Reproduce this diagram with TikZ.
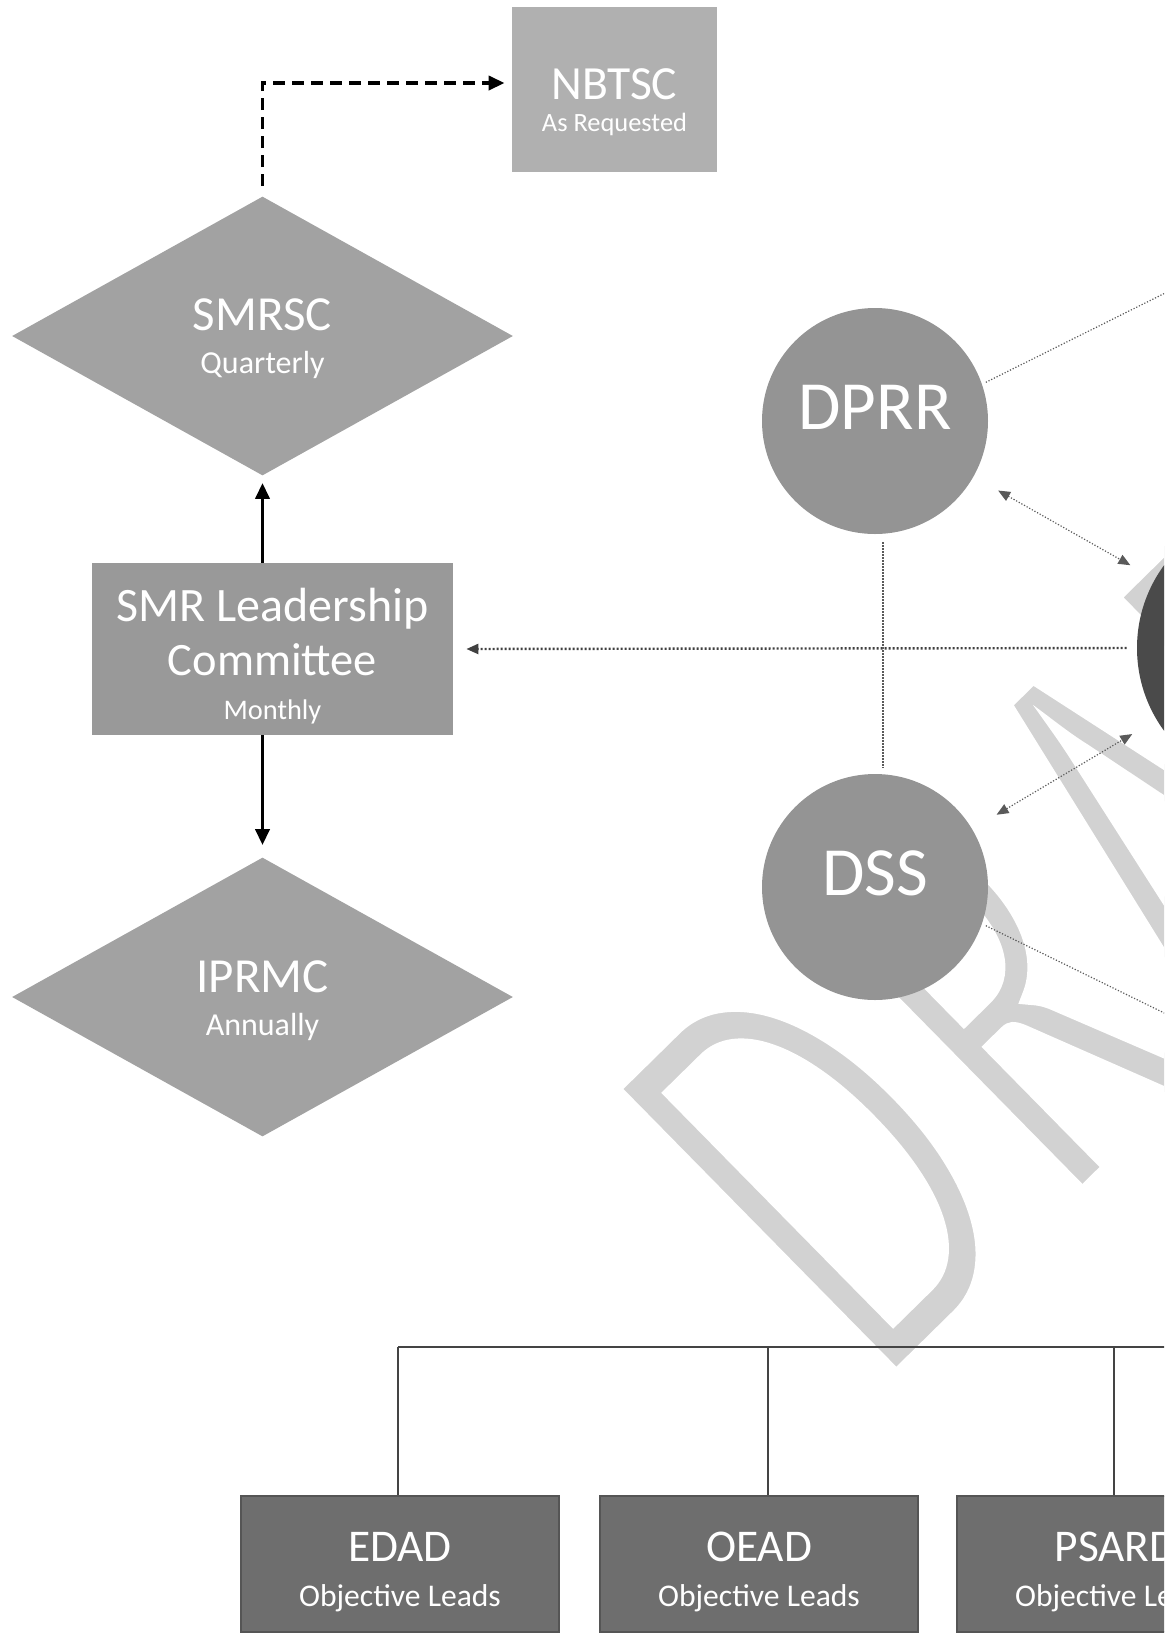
\documentclass[tikz,border=0pt]{standalone}
\usepackage{fontspec}
\setmainfont{Carlito}
\usetikzlibrary{shapes.geometric,arrows.meta,positioning}

\definecolor{reqgray}{HTML}{B0B0B0}
\definecolor{meetgray}{HTML}{A2A2A2}
\definecolor{boxgray}{HTML}{999999}
\definecolor{unitgray}{HTML}{949494}
\definecolor{hubgray}{HTML}{4A4A4A}
\definecolor{leadgray}{HTML}{6E6E6E}
\definecolor{leadedge}{HTML}{555555}
\definecolor{linkgray}{HTML}{5A5A5A}
\definecolor{busgray}{HTML}{444444}
\definecolor{markgray}{HTML}{D2D2D2}

% thinner watermark strokes: white outline round the glyphs
\newcommand{\thinmark}[1]{%
  \special{pdf:literal direct 2 Tr 1 1 1 RG 8 w}#1\special{pdf:literal direct 0 Tr}}

\begin{document}
\begin{tikzpicture}
  [x=0.5pt, y=-0.5pt,
    every node/.style={inner sep=0pt, text=white, align=center},
    meeting/.style={
      diamond, aspect=1.8,
      fill=meetgray,
      minimum width=250.5pt, minimum height=139.5pt,
      font=\fontsize{16}{21.5}\selectfont
    },
    request/.style={
      rectangle, fill=reqgray,
      minimum width=102.5pt, minimum height=82.5pt,
      text height=42.5pt, text depth=0.5pt,
      font=\fontsize{13.2}{16}\selectfont
    },
    committee/.style={
      rectangle, fill=boxgray,
      minimum width=180.5pt, minimum height=86pt,
      text height=73pt, text depth=3pt,
      font=\fontsize{14.2}{22}\selectfont
    },
    unit/.style={
      circle, fill=unitgray,
      minimum size=113pt, text height=22pt, text depth=14pt,
      font=\fontsize{34.5}{34.5}\selectfont
    },
    hub/.style={circle, fill=hubgray, minimum size=140pt},
    leads/.style={
      rectangle, fill=leadgray, draw=leadedge, line width=0.6pt,
      minimum width=159pt, minimum height=68pt,
      text height=45pt, text depth=3pt,
      font=\fontsize{15.8}{22.3}\selectfont
    },
    draftmark/.style={
      text=markgray, anchor=base west,
      rotate=44.5, xscale=0.6,
      font=\fontsize{316}{316}\selectfont
    },
    heavy/.style={line width=1.8pt, -{Triangle[length=8pt,width=7pt]}},
    heavydash/.style={heavy, dash pattern=on 6pt off 3.5pt},
    dotlink/.style={draw=linkgray, line width=0.6pt, dash pattern=on 0.6pt off 0.9pt},
    twoway/.style={
      dotlink,
      {Triangle[length=6pt,width=5pt]}-{Triangle[length=6pt,width=5pt]},
      shorten <=14pt, shorten >=14pt
    },
    bus/.style={draw=busgray, line width=0.7pt},
  ]
\useasboundingbox (0,0) rectangle (1164,1635);
\clip (0,0) rectangle (1164,1635);

% Watermark behind everything
\node [draftmark] (draft) at (880,1394) {\thinmark{D\kern22pt R\kern14pt AFT}};

% Governance column
\node [request] (nbtsc) at (614.5,89.5)
  {{\fontsize{23.8}{16}\selectfont NBTSC}\\As Requested};
\node [meeting, text height=40pt, text depth=3pt] (smrsc) at (262.5,336)
  {{\fontsize{24.5}{21.5}\selectfont SMRSC}\\Quarterly};
\node [committee] (smr) at (272.5,649)
  {{\fontsize{24}{22}\selectfont SMR Leadership}\\[5pt]
   {\fontsize{23.2}{22}\selectfont Committee}\\Monthly};
\node [meeting, text height=41pt, text depth=3pt] (iprmc) at (262.5,997)
  {{\fontsize{24.5}{21.5}\selectfont IPRMC}\\Annually};

% Units and hub
\node [unit] (dprr) at (875,421) {DPRR};
\node [unit] (dss) at (875,887) {DSS};
\node [hub] (hub) at (1277,648) {};

% Objective lead boxes
\foreach \name/\x [count=\i] in {EDAD/400,OEAD/759,PSARD/1116}
  \node [leads] (lead-\i) at (\x,1564)
    {{\fontsize{22.7}{22.3}\selectfont \name}\\Objective Leads};

% Reporting arrows
\draw [heavydash, shorten <=5pt, shorten >=3.5pt]
  (smrsc.north) |- ([yshift=3.25pt]nbtsc.west);
\draw [heavy, shorten >=3.5pt] (smrsc.south |- smr.north) -- (smrsc.south);
\draw [heavy, shorten >=6pt] (iprmc.north |- smr.south) -- (iprmc.north);

% Links around the hub
\draw [dotlink, draw=black!75, line width=1.2pt, dash pattern=on 1pt off 1pt,
  -{Triangle[length=6pt,width=5pt]},
  shorten <=5pt, shorten >=6.5pt] (hub.west) -- (smr.east);
\draw [dotlink, shorten <=4pt, shorten >=3pt]
  ([xshift=4pt]dprr.south) -- ([xshift=4pt]dss.north);
\draw [twoway] (dprr) -- (hub);
\draw [twoway] (dss) -- (hub);

% Links leaving the frame
\coordinate (upper-link) at (1340,206);
\coordinate (lower-link) at (1340,1099);
\draw [dotlink, shorten <=2pt] (dprr.19) -- (upper-link);
\draw [dotlink, shorten <=2pt] (dss.-19) -- (lower-link);

% Bus to objective leads
\coordinate (bus-w) at (398,1347);
\coordinate (bus-e) at (1200,1347);
\draw [bus] (bus-w) -- (bus-e);
\foreach \x [count=\i] in {398,768,1114} {
  \coordinate (drop-\i) at (\x,1347);
  \draw [bus] (drop-\i) -- (drop-\i |- lead-\i.north);
}
\end{tikzpicture}
\end{document}
